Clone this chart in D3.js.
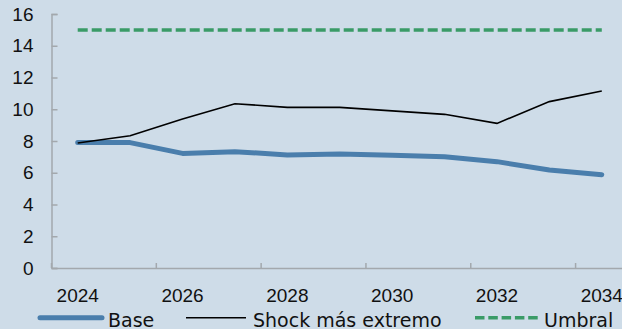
<!DOCTYPE html>
<html>
<head>
<meta charset="utf-8">
<script src="https://cdn.jsdelivr.net/npm/d3@7"></script>
<style>
  html, body { margin: 0; padding: 0; background: #cedce8; }
  svg { display: block; font-family: "DejaVu Sans", Verdana, sans-serif; }
</style>
</head>
<body>
<svg id="chart" width="622" height="329"></svg>
<script>
const years = [2024, 2025, 2026, 2027, 2028, 2029, 2030, 2031, 2032, 2033, 2034];
const baseValues = [7.9, 7.9, 7.22, 7.33, 7.12, 7.18, 7.1, 7.01, 6.7, 6.17, 5.88];
const shockValues = [7.87, 8.33, 9.39, 10.35, 10.12, 10.12, 9.9, 9.68, 9.11, 10.48, 11.15];
const umbralValues = [15, 15, 15, 15, 15, 15, 15, 15, 15, 15, 15];
const yTicks = [0, 2, 4, 6, 8, 10, 12, 14, 16];
const xTickLabels = [2024, 2026, 2028, 2030, 2032, 2034];
const seriesNames = ["Base", "Shock más extremo", "Umbral"];

const svg = d3.select("#chart");
const W = 622, H = 329;
const FS = 19;
svg.append("rect").attr("width", W).attr("height", H).attr("fill", "#cedce8");

const x = d3.scaleBand().domain(years).range([51.5, 628]).padding(0);
const y = d3.scaleLinear().domain([0, 16]).range([268, 14]);
const cx = d => x(d) + x.bandwidth() / 2;

const axisColor = "#a3a8ad";
const textColor = "#111111";

// Y axis
const yAxis = svg.append("g").attr("transform", `translate(${x.range()[0]},0)`)
  .call(d3.axisLeft(y).tickValues(yTicks).tickSize(-6).tickPadding(18).tickFormat(d3.format("d")));
yAxis.select(".domain").attr("stroke", axisColor).attr("stroke-width", 1.5);
yAxis.selectAll(".tick line").attr("stroke", axisColor).attr("stroke-width", 1.5);
yAxis.selectAll("text").attr("fill", textColor).attr("font-size", FS);

// X axis
const xAxis = svg.append("g").attr("transform", `translate(0,${y(0)})`)
  .call(d3.axisBottom(x).tickValues(xTickLabels).tickSize(0).tickPadding(21));
xAxis.select(".domain").attr("stroke", axisColor).attr("stroke-width", 1.5);
xAxis.selectAll("text").attr("fill", textColor).attr("font-size", FS);
// tick marks at category boundaries (every 2)
svg.append("g").selectAll("line")
  .data(years.filter((d, i) => i % 2 === 0))
  .join("line")
  .attr("x1", d => x(d)).attr("x2", d => x(d))
  .attr("y1", y(0)).attr("y2", y(0) - 5)
  .attr("stroke", axisColor).attr("stroke-width", 1.5);

const line = d3.line().x((d, i) => cx(years[i])).y(d => y(d));

// Umbral
svg.append("path").datum(umbralValues).attr("d", line)
  .attr("fill", "none").attr("stroke", "#3a9b67").attr("stroke-width", 3.5)
  .attr("stroke-dasharray", "10,4");
// Base
svg.append("path").datum(baseValues).attr("d", line)
  .attr("fill", "none").attr("stroke", "#4a7eac").attr("stroke-width", 5)
  .attr("stroke-linejoin", "round").attr("stroke-linecap", "round");
// Shock
svg.append("path").datum(shockValues).attr("d", line)
  .attr("fill", "none").attr("stroke", "#000000").attr("stroke-width", 1.6)
  .attr("stroke-linejoin", "miter");

// Legend
const legY = 317.7;
const legend = [
  { name: seriesNames[0], x1: 40, x2: 102, tx: 108, stroke: "#4a7eac", w: 5, dash: null, cap: "round" },
  { name: seriesNames[1], x1: 186, x2: 246, tx: 253, stroke: "#000000", w: 1.6, dash: null, cap: "butt" },
  { name: seriesNames[2], x1: 475, x2: 538, tx: 544, stroke: "#3a9b67", w: 3.5, dash: "9.5,3.8", cap: "butt" }
];
const lg = svg.append("g").selectAll("g").data(legend).join("g");
lg.append("line")
  .attr("x1", d => d.x1).attr("x2", d => d.x2)
  .attr("y1", legY).attr("y2", legY)
  .attr("stroke", d => d.stroke).attr("stroke-width", d => d.w)
  .attr("stroke-linecap", d => d.cap)
  .attr("stroke-dasharray", d => d.dash);
lg.append("text")
  .attr("x", d => d.tx).attr("y", 326.5)
  .attr("font-size", FS).attr("fill", textColor)
  .text(d => d.name);
</script>
</body>
</html>
